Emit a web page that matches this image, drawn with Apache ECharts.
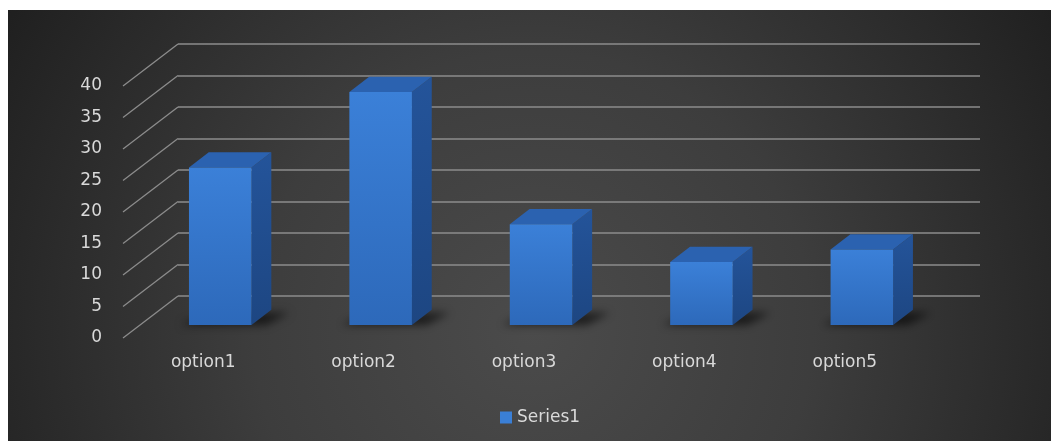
<!DOCTYPE html>
<html><head><meta charset="utf-8">
<script src="https://cdn.jsdelivr.net/npm/echarts/dist/echarts.min.js"></script>
<style>
html,body{margin:0;padding:0;background:#fff;width:1051px;height:441px;overflow:hidden}
#c{position:absolute;left:8px;top:10px;width:1043px;height:431px}
</style>
</head><body><div id="c"></div>
<script>
const categories = ['option1', 'option2', 'option3', 'option4', 'option5'];
const seriesName = 'Series1';
const values = [25, 37, 16, 10, 12];
const yTicks = [0, 5, 10, 15, 20, 25, 30, 35, 40];

// 3D look (style constants)
const DEPTH = [55, -42];      // front plane -> back wall offset
const FA = 0.31, FB = 0.67;   // bar front / back depth fractions
const BAR_W = 0.39;           // bar width as fraction of band
const FONT = 'DejaVu Sans';
const TXT = '#d9d9d9';
const GRIDC = '#8c8c8c';
const SHIFT = 3000;           // shadow trick: draw off-canvas, cast blurred shadow back

const chart = echarts.init(document.getElementById('c'), null, {renderer: 'canvas'});

const option = {
  animation: false,
  backgroundColor: {
    type: 'radial', x: 525, y: 320, r: 620, global: true,
    colorStops: [
      {offset: 0, color: '#4b4b4b'},
      {offset: 0.45, color: '#3d3d3d'},
      {offset: 1, color: '#1f1f1f'}
    ]
  },
  grid: [
    {left: 115, top: 76, width: 802, height: 252},   // front plane
    {left: 170, top: 34, width: 802, height: 252}    // back wall
  ],
  xAxis: [
    {
      type: 'category', gridIndex: 0, data: categories,
      axisLine: {show: false}, axisTick: {show: false},
      axisLabel: {color: TXT, fontFamily: FONT, fontSize: 17, margin: 16}
    },
    {type: 'category', gridIndex: 1, data: categories, show: false}
  ],
  yAxis: [
    {
      type: 'value', gridIndex: 0, min: 0, max: 40, interval: 5,
      axisLine: {show: false}, axisTick: {show: false}, splitLine: {show: false},
      axisLabel: {color: TXT, fontFamily: FONT, fontSize: 17, margin: 21}
    },
    {
      type: 'value', gridIndex: 1, min: 0, max: 40, interval: 5,
      axisLine: {show: false}, axisTick: {show: false},
      axisLabel: {show: false},
      splitLine: {show: true, lineStyle: {color: GRIDC, width: 1.7}}
    }
  ],
  legend: {
    bottom: 10, left: 487,
    itemWidth: 12, itemHeight: 12, itemGap: 6, icon: 'rect',
    textStyle: {color: TXT, fontFamily: FONT, fontSize: 17},
    data: [seriesName]
  },
  series: [
    {
      type: 'custom', name: 'diagonals', xAxisIndex: 0, yAxisIndex: 0,
      silent: true, clip: false, z: 1,
      data: yTicks.map(v => [0, v]),
      encode: {x: 0, y: 1},
      renderItem: function (params, api) {
        const p = api.coord([0, api.value(1)]);
        const band = api.size([1, 0])[0];
        const x = p[0] - band / 2;
        return {
          type: 'line',
          shape: {x1: x, y1: p[1], x2: x + DEPTH[0], y2: p[1] + DEPTH[1]},
          style: {stroke: GRIDC, lineWidth: 1.3}
        };
      }
    },
    {
      type: 'custom', name: seriesName, xAxisIndex: 0, yAxisIndex: 0,
      clip: false, z: 3,
      itemStyle: {color: '#3a7fd6'},
      data: values.map((v, i) => [i, v]),
      encode: {x: 0, y: 1},
      renderItem: function (params, api) {
        const i = api.value(0), v = api.value(1);
        const base = api.coord([i, 0]);
        const top = api.coord([i, v]);
        const bw = api.size([1, 0])[0] * BAR_W;
        const ox = DEPTH[0] * FA, oy = DEPTH[1] * FA;
        const dx = DEPTH[0] * (FB - FA), dy = DEPTH[1] * (FB - FA);
        const x0 = base[0] - bw / 2 + ox, x1 = x0 + bw;
        const yb = base[1] + oy, yt = top[1] + oy;
        const sp = [[x0 - 8, yb], [x1 + 14, yb], [x1 + dx + 18, yb + dy + 3], [x0 + dx, yb + dy + 3]]
          .map(p => [p[0] - SHIFT, p[1]]);
        return {
          type: 'group',
          children: [
            { // soft floor shadow (blurred shadow only)
              type: 'polygon',
              shape: {points: sp},
              style: {fill: '#000', shadowBlur: 9, shadowOffsetX: SHIFT, shadowOffsetY: 0,
                      shadowColor: 'rgba(0,0,0,0.6)'}
            },
            { // side face
              type: 'polygon',
              shape: {points: [[x1, yb], [x1 + dx, yb + dy], [x1 + dx, yt + dy], [x1, yt]]},
              style: {fill: {type: 'linear', x: 0, y: 0, x2: 0, y2: 1, colorStops: [
                {offset: 0, color: '#24549a'}, {offset: 1, color: '#1d4682'}]}}
            },
            { // top face
              type: 'polygon',
              shape: {points: [[x0, yt], [x1, yt], [x1 + dx, yt + dy], [x0 + dx, yt + dy]]},
              style: {fill: '#2b62b0'}
            },
            { // front face
              type: 'rect',
              shape: {x: x0, y: yt, width: bw, height: yb - yt},
              style: {fill: {type: 'linear', x: 0, y: 0, x2: 0, y2: 1, colorStops: [
                {offset: 0, color: '#3b80d8'}, {offset: 1, color: '#2d69ba'}]}}
            }
          ]
        };
      }
    }
  ]
};
chart.setOption(option);
</script>
</body></html>
